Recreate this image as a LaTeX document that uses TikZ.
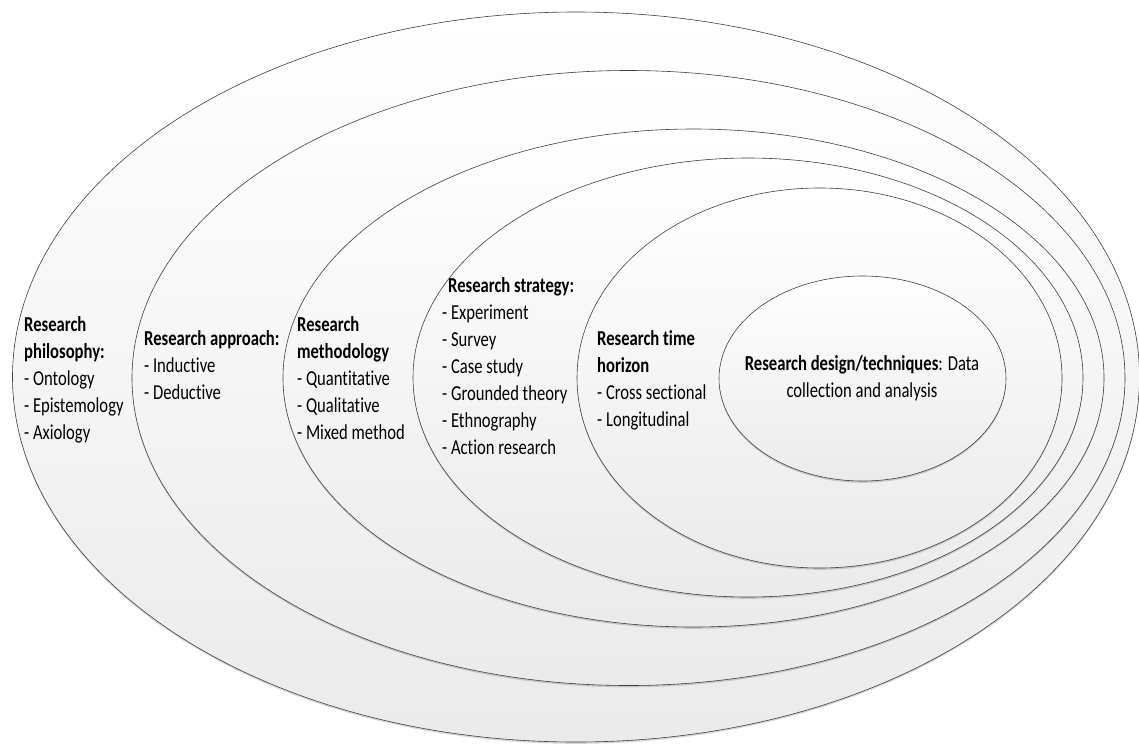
\documentclass[tikz,border=0pt]{standalone}
\usepackage{fontspec}
\setmainfont{Carlito}[FakeStretch=0.78, Ligatures=NoCommon]
\usetikzlibrary{shadows}
\begin{document}
\begin{tikzpicture}[x=1pt,y=-1pt,
  ring/.style={draw=black!75, line width=0.6pt,
    top color=white, bottom color=black!8,
    drop shadow={shadow xshift=0pt, shadow yshift=-1.8pt, opacity=0.16, fill=black}},
  txt/.style={inner sep=0pt, anchor=north west, align=left, yshift=18.9pt,
    font=\fontsize{21.3}{27}\selectfont},
  ctxt/.style={txt, anchor=north, align=center}]
  % page area
  \useasboundingbox (0,0) rectangle (1139,744);
  \fill[white] (0,0) rectangle (1139,744);

  % nested layers, outermost first
  \path[ring] (576,377)   ellipse [x radius=563.5, y radius=365];
  \path[ring] (628.5,378) ellipse [x radius=496.5, y radius=307.5];
  \path[ring] (693.5,378) ellipse [x radius=410.5, y radius=249];
  \path[ring] (748,377.5) ellipse [x radius=335,   y radius=219.5];
  \path[ring] (819.5,378) ellipse [x radius=242.5, y radius=190];
  \path[ring] (862.5,378.5) ellipse [x radius=143.5, y radius=102.5];

  % layer labels (coordinates give the first baseline)
  \node[txt] (philosophy) at (24,331.5)
    {\strut\textbf{Research}\\\textbf{philosophy:}\\- Ontology\\- Epistemology\\- Axiology};
  \node[txt] (approach) at (144,345)
    {\strut\textbf{Research approach:}\\- Inductive\\- Deductive};
  \node[txt] (methodology) at (297,331.5)
    {\strut\textbf{Research}\\\textbf{methodology}\\- Quantitative\\- Qualitative\\- Mixed method};
  \node[txt] (strategy) at (442,292)
    {\strut\hspace*{6pt}\textbf{Research strategy:}\\- Experiment\\- Survey\\- Case study\\- Grounded theory\\- Ethnography\\- Action research};
  \node[txt] (horizon) at (597,345)
    {\strut\textbf{Research time}\\\textbf{horizon}\\- Cross sectional\\- Longitudinal};
  \node[ctxt] (design) at (862,370.5)
    {\strut\textbf{Research design/techniques}: Data\\collection and analysis};
\end{tikzpicture}
\end{document}
